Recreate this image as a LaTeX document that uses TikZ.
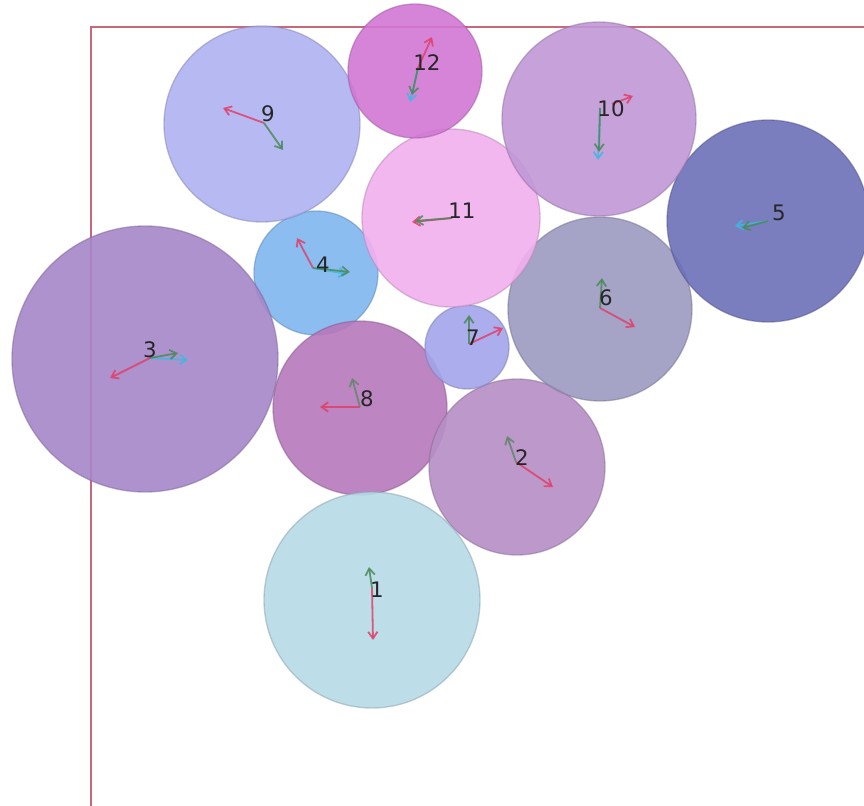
\documentclass[tikz,border=0pt]{standalone}
\usepackage{fontspec}
\setmainfont{DejaVu Sans}
\usetikzlibrary{arrows.meta}
\definecolor{c1}{HTML}{B6DAE7}
\definecolor{c2}{HTML}{B68FC6}
\definecolor{c3}{HTML}{A687C9}
\definecolor{c4}{HTML}{7FB6F0}
\definecolor{c5}{HTML}{6D70B8}
\definecolor{c6}{HTML}{9C9AC0}
\definecolor{c7}{HTML}{A4A5EA}
\definecolor{c8}{HTML}{B678BB}
\definecolor{c9}{HTML}{B0B2F2}
\definecolor{c10}{HTML}{C197D7}
\definecolor{c11}{HTML}{F2B0EF}
\definecolor{c12}{HTML}{D277D4}
\definecolor{ared}{HTML}{E0406A}
\definecolor{agreen}{HTML}{4A8A5A}
\definecolor{acyan}{HTML}{40B8E0}
\definecolor{frame}{HTML}{C86878}
\tikzset{
  disc/.style={fill=#1, draw=#1!75!black, draw opacity=0.5, fill opacity=0.9, line width=1pt},
  lbl/.style={font=\fontsize{16pt}{16pt}\selectfont, text=black!85, inner sep=0pt},
  vec/.style={draw=#1, line width=1.35pt, draw opacity=0.85, -{Straight Barb[length=5pt,width=7pt]}}
}
\begin{document}
\begin{tikzpicture}[x=0.75pt,y=-0.75pt]
\useasboundingbox (0,0) rectangle (864,806);
\fill[white] (0,0) rectangle (864,806);
% frame
\draw[frame, line width=1.2pt] (91,810) -- (91,27) -- (870,27);
% circles
\path[disc=c4] (316,273) circle[radius=62];
\path[disc=c3] (145,359) circle[radius=133];
\path[disc=c8] (360,408) circle[radius=87];
\path[disc=c2] (517,467) circle[radius=88];
\path[disc=c1] (372,600) circle[radius=108];
\path[disc=c7] (467,347) circle[radius=42];
\path[disc=c6] (600,309) circle[radius=92];
\path[disc=c5] (768,221) circle[radius=101];
\path[disc=c11] (451,218) circle[radius=89];
\path[disc=c9] (262,124) circle[radius=98];
\path[disc=c10] (599,119) circle[radius=97];
\path[disc=c12] (415,71) circle[radius=67];
% arrow origins
\coordinate (o1) at (372,588);
\coordinate (o2) at (516,462);
\coordinate (o3) at (150,358);
\coordinate (o4) at (313,268);
\coordinate (o5) at (768,221);
\coordinate (o6) at (600,308);
\coordinate (o7) at (469,344);
\coordinate (o8) at (360,407);
\coordinate (o9) at (264,123);
\coordinate (o10) at (600,108);
\coordinate (o10r) at (612,104);
\coordinate (o11) at (452,218);
\coordinate (o12) at (418,68);
% vectors
\draw[vec=ared] (o1) -- (373,640);
\draw[vec=agreen] (o1) -- (369,567);
\draw[vec=ared] (o2) -- (553,487);
\draw[vec=agreen!60!gray] (o2) -- (507,436);
\draw[vec=ared] (o3) -- (110,378);
\draw[vec=acyan] (o3) -- (188,360);
\draw[vec=agreen] (o3) -- (178,353);
\draw[vec=ared] (o4) -- (297,238);
\draw[vec=acyan] (o4) -- (347,274);
\draw[vec=agreen] (o4) -- (350,272);
\draw[vec=acyan] (o5) -- (735,226);
\draw[vec=agreen] (o5) -- (742,228);
\draw[vec=ared] (o6) -- (635,327);
\draw[vec=agreen] (o6) -- (602,278);
\draw[vec=ared] (o7) -- (503,328);
\draw[vec=agreen] (o7) -- (469,315);
\draw[vec=ared] (o8) -- (320,407);
\draw[vec=agreen!50!gray] (o8) -- (352,378);
\draw[vec=ared] (o9) -- (223,108);
\draw[vec=agreen] (o9) -- (283,150);
\draw[vec=ared] (o10r) -- (633,96);
\draw[vec=acyan] (o10) -- (598,160);
\draw[vec=agreen] (o10) -- (599,152);
\draw[vec=ared] (o11) -- (412,222);
\draw[vec=agreen] (o11) -- (415,221);
\draw[vec=ared] (o12) -- (432,37);
\draw[vec=acyan] (o12) -- (410,102);
\draw[vec=agreen] (o12) -- (412,95);
% labels
\node[lbl] (l1) at (377,590) {1};
\node[lbl] (l2) at (522,458) {2};
\node[lbl] (l3) at (150,350) {3};
\node[lbl] (l4) at (323,265) {4};
\node[lbl] (l5) at (779,213) {5};
\node[lbl] (l6) at (606,298) {6};
\node[lbl] (l7) at (473,338) {7};
\node[lbl] (l8) at (367,399) {8};
\node[lbl] (l9) at (268,114) {9};
\node[lbl] (l10) at (611,109) {10};
\node[lbl] (l11) at (462,211) {11};
\node[lbl] (l12) at (427,63) {12};
\end{tikzpicture}
\end{document}
